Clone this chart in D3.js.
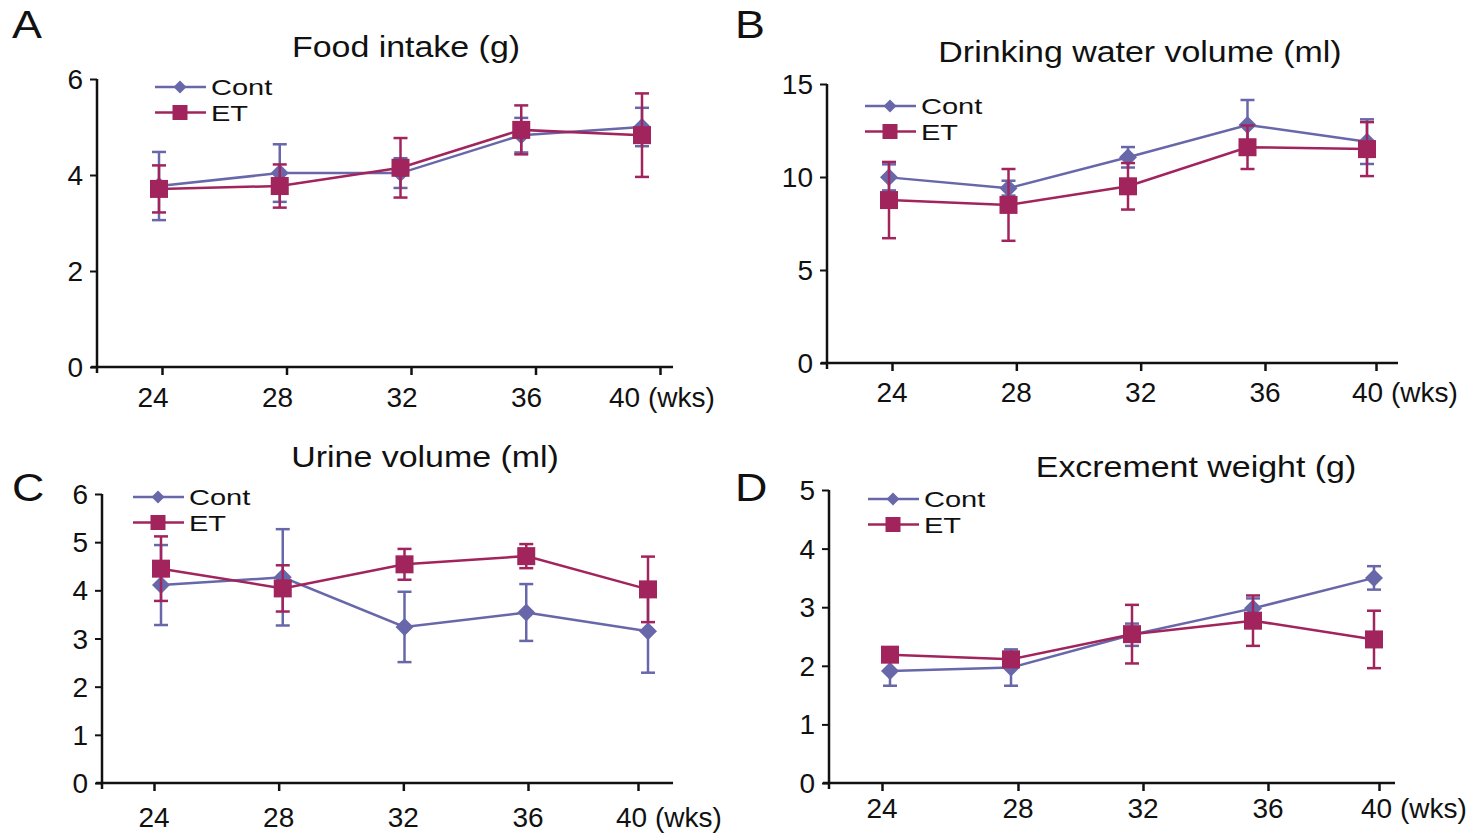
<!DOCTYPE html>
<html>
<head>
<meta charset="utf-8">
<script src="https://cdn.jsdelivr.net/npm/d3@7"></script>
<style>
  body { margin: 0; background: #fff; }
  svg { display: block; font-family: 'Liberation Sans', Arial, sans-serif; }
</style>
</head>
<body>
<svg id="chart" width="1482" height="835"></svg>
<script>
// weeks and labels
var weeks = [24, 28, 32, 36, 40];
var weekLabels = ['24', '28', '32', '36', '40 (wks)'];
var seriesNames = ['Cont', 'ET'];
var titles = ['Food intake (g)', 'Drinking water volume (ml)', 'Urine volume (ml)', 'Excrement weight (g)'];

// A: food intake
var foodTicks = [0, 2, 4, 6];
var foodCont = [3.77, 4.04, 4.04, 4.83, 5.0];
var foodContErr = [0.71, 0.6, 0.31, 0.36, 0.4];
var foodET = [3.71, 3.77, 4.15, 4.94, 4.83];
var foodETErr = [0.49, 0.45, 0.62, 0.51, 0.87];

// B: drinking water
var waterTicks = [0, 5, 10, 15];
var waterCont = [9.98, 9.4, 11.06, 12.8, 11.9];
var waterContErr = [0.7, 0.4, 0.55, 1.34, 1.2];
var waterET = [8.76, 8.5, 9.5, 11.6, 11.5];
var waterETErr = [2.05, 1.93, 1.25, 1.17, 1.45];

// C: urine
var urineTicks = [0, 1, 2, 3, 4, 5, 6];
var urineCont = [4.11, 4.27, 3.24, 3.54, 3.15];
var urineContErr = [0.83, 1.0, 0.73, 0.59, 0.86];
var urineET = [4.45, 4.04, 4.54, 4.71, 4.02];
var urineETErr = [0.67, 0.48, 0.32, 0.25, 0.68];

// D: excrement
var excTicks = [0, 1, 2, 3, 4, 5];
var excCont = [1.91, 1.97, 2.53, 2.98, 3.5];
var excContErr = [0.25, 0.31, 0.19, 0.17, 0.2];
var excET = [2.19, 2.11, 2.54, 2.77, 2.45];
var excETErr = [0.1, 0.08, 0.5, 0.43, 0.49];

var contColor = '#6767aa',
  etColor = '#a1245c';

var panels = [
  { letter: 'A', lx: 12, ly: 38, title: titles[0], tx: 406, ty: 57,
    ax: 97, yTop: 79, yBot: 367, ticks: foodTicks,
    tickDom: [24, 40], tickRange: [162, 660], ptRange: [159, 642], xEnd: 673,
    labelShift: -9, lastStart: -51, labelDy: 40, legX: 155, legY: 87,
    cont: foodCont, contErr: foodContErr, et: foodET, etErr: foodETErr },
  { letter: 'B', lx: 735, ly: 38, title: titles[1], tx: 1140, ty: 62,
    ax: 827, yTop: 84, yBot: 363, ticks: waterTicks,
    tickDom: [24, 36, 40], tickRange: [892, 1265, 1376], ptRange: [889, 1367], xEnd: 1398,
    labelShift: 0, lastStart: -24, labelDy: 39, legX: 865, legY: 106,
    cont: waterCont, contErr: waterContErr, et: waterET, etErr: waterETErr },
  { letter: 'C', lx: 12, ly: 501, title: titles[2], tx: 425, ty: 467,
    ax: 102, yTop: 494, yBot: 783, ticks: urineTicks,
    tickDom: [24, 36, 40], tickRange: [154, 528, 638], ptRange: [161, 648], xEnd: 673,
    labelShift: 0, lastStart: -22, labelDy: 44, legX: 133, legY: 497,
    cont: urineCont, contErr: urineContErr, et: urineET, etErr: urineETErr },
  { letter: 'D', lx: 735, ly: 501, title: titles[3], tx: 1196, ty: 477,
    ax: 829, yTop: 490, yBot: 783, ticks: excTicks,
    tickDom: [24, 28, 36, 40], tickRange: [882, 1018, 1268, 1379], ptRange: [890, 1374], xEnd: 1395,
    labelShift: 0, lastStart: -18, labelDy: 35, legX: 868, legY: 499,
    cont: excCont, contErr: excContErr, et: excET, etErr: excETErr }
];

var svg = d3.select('#chart');

// text that is a bit wider than the font, like the original figure
function wideText(parent, x, y, str, size, anchor, sx) {
  return parent.append('text')
    .attr('transform', 'translate(' + x + ',' + y + ') scale(' + sx + ',1)')
    .attr('text-anchor', anchor || 'start')
    .style('font-size', size + 'px')
    .attr('fill', '#111')
    .text(str);
}

function drawMarker(g, shape, x, y, color, size) {
  if (shape === 'diamond') {
    g.append('path')
      .attr('d', d3.symbol().type(d3.symbolSquare).size(size * size / 2)())
      .attr('transform', 'translate(' + x + ',' + y + ') rotate(45)')
      .attr('fill', color);
  } else {
    g.append('rect')
      .attr('x', x - size / 2).attr('y', y - size / 2)
      .attr('width', size).attr('height', size)
      .attr('fill', color);
  }
}

function drawPanel(p) {
  var g = svg.append('g');
  var maxV = p.ticks[p.ticks.length - 1];

  var y = d3.scaleLinear().domain([0, maxV]).range([p.yBot, p.yTop]);
  var xTick = d3.scaleLinear().domain(p.tickDom).range(p.tickRange);
  var x = d3.scaleLinear().domain([weeks[0], weeks[weeks.length - 1]]).range(p.ptRange);

  // letter and title
  wideText(g, p.lx, p.ly, p.letter, 39, 'start', 1.15);
  wideText(g, p.tx, p.ty, p.title, 29, 'middle', 1.17);

  // y axis
  var yAxis = g.append('g')
    .attr('transform', 'translate(' + p.ax + ',0)')
    .call(d3.axisLeft(y).tickValues(p.ticks).tickSizeInner(7).tickSizeOuter(0).tickFormat(''));
  yAxis.select('.domain').remove();
  yAxis.selectAll('line').attr('stroke', '#111').attr('stroke-width', 2);

  p.ticks.forEach(function (t) {
    g.append('text')
      .attr('x', p.ax - 14).attr('y', y(t) + 10)
      .attr('text-anchor', 'end')
      .style('font-size', '28px')
      .attr('fill', '#111')
      .text(t);
  });

  // x axis
  var xAxis = g.append('g')
    .attr('transform', 'translate(0,' + p.yBot + ')')
    .call(d3.axisBottom(xTick).tickValues(weeks).tickSizeInner(8).tickSizeOuter(0).tickFormat(''));
  xAxis.select('.domain').remove();
  xAxis.selectAll('line').attr('stroke', '#111').attr('stroke-width', 2.5);

  weeks.forEach(function (w, i) {
    var last = i === weeks.length - 1;
    g.append('text')
      .attr('x', last ? xTick(w) + p.lastStart : xTick(w) + p.labelShift)
      .attr('y', p.yBot + p.labelDy)
      .attr('text-anchor', last ? 'start' : 'middle')
      .style('font-size', '28px')
      .attr('fill', '#111')
      .text(weekLabels[i]);
  });

  // axis lines
  g.append('line')
    .attr('x1', p.ax).attr('x2', p.ax)
    .attr('y1', p.yTop).attr('y2', p.yBot + 6)
    .attr('stroke', '#111').attr('stroke-width', 2.5);
  g.append('line')
    .attr('x1', p.ax - 6).attr('x2', p.xEnd)
    .attr('y1', p.yBot).attr('y2', p.yBot)
    .attr('stroke', '#111').attr('stroke-width', 2.5);

  // series
  var series = [
    { name: seriesNames[0], vals: p.cont, err: p.contErr, color: contColor, shape: 'diamond', size: 18 },
    { name: seriesNames[1], vals: p.et, err: p.etErr, color: etColor, shape: 'square', size: 18 }
  ];

  var line = d3.line()
    .x(function (d, i) { return x(weeks[i]); })
    .y(function (d) { return y(d); });

  series.forEach(function (s) {
    var sg = g.append('g');
    sg.append('path')
      .datum(s.vals)
      .attr('d', line)
      .attr('fill', 'none')
      .attr('stroke', s.color)
      .attr('stroke-width', 2.5);

    s.vals.forEach(function (v, i) {
      var cx = x(weeks[i]),
        top = y(v + s.err[i]),
        bot = y(v - s.err[i]);
      sg.append('line')
        .attr('x1', cx).attr('x2', cx).attr('y1', top).attr('y2', bot)
        .attr('stroke', s.color).attr('stroke-width', 2.5);
      [top, bot].forEach(function (yy) {
        sg.append('line')
          .attr('x1', cx - 7).attr('x2', cx + 7).attr('y1', yy).attr('y2', yy)
          .attr('stroke', s.color).attr('stroke-width', 2.5);
      });
    });

    s.vals.forEach(function (v, i) {
      drawMarker(sg, s.shape, x(weeks[i]), y(v), s.color, s.size);
    });
  });

  // legend
  series.forEach(function (s, i) {
    var ly = p.legY + i * 25.5;
    g.append('line')
      .attr('x1', p.legX).attr('x2', p.legX + 51)
      .attr('y1', ly).attr('y2', ly)
      .attr('stroke', s.color).attr('stroke-width', 2.5);
    drawMarker(g, s.shape, p.legX + 25, ly, s.color, s.shape === 'diamond' ? 13 : 15);
    wideText(g, p.legX + 56, ly + 8, s.name, 22, 'start', 1.32);
  });
}

panels.forEach(drawPanel);
</script>
</body>
</html>
